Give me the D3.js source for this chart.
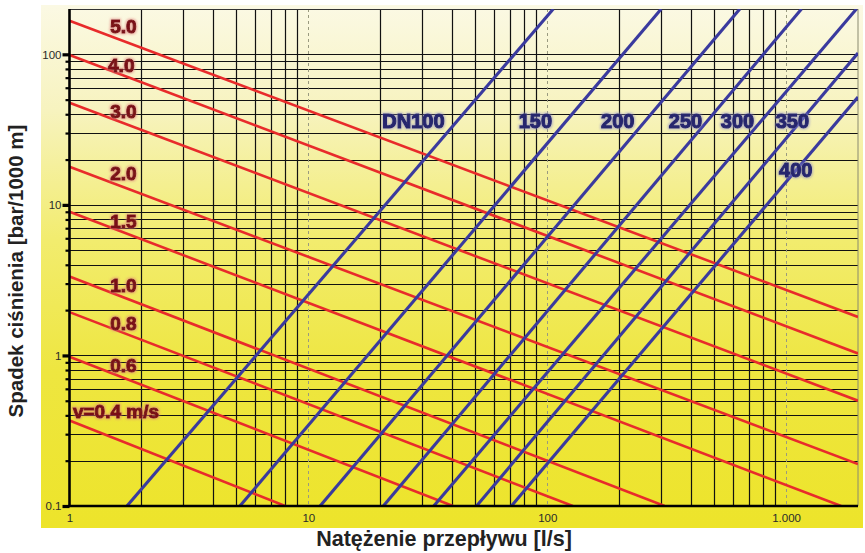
<!DOCTYPE html>
<html>
<head>
<meta charset="utf-8">
<script src="https://cdn.jsdelivr.net/npm/d3@7"></script>
<style>
  html, body { margin: 0; padding: 0; background: #ffffff; }
  svg { display: block; font-family: "Liberation Sans", Arial, Helvetica, sans-serif; }
</style>
</head>
<body>
<svg id="chart" width="865" height="553"></svg>
<script>
// ---- Data ---------------------------------------------------------------
// Flow velocity lines (red): [flow l/s, head loss bar/1000 m] at both ends
const velocityNames   = ["5.0", "4.0", "3.0", "2.0", "1.5", "1.0", "0.8", "0.6", "v=0.4 m/s"];
const velocityValues  = [5.0, 4.0, 3.0, 2.0, 1.5, 1.0, 0.8, 0.6, 0.4];
const velStartFlow    = [1, 1, 1, 1, 1, 1, 1, 1, 1];
const velStartHead    = [167, 99, 47.7, 17.9, 9.0, 3.34, 1.94, 0.98, 0.37];
const velEndFlow      = [2000, 2000, 2000, 2000, 1700, 310, 128, 40.3, 8.0];
const velEndHead      = [1.8, 1.03, 0.5, 0.19, 0.1, 0.1, 0.1, 0.1, 0.1];

// Pipe diameter lines (blue)
const diameterNames   = ["DN100", "150", "200", "250", "300", "350", "400"];
const dnStartFlow     = [1.74, 5.17, 11.2, 20.6, 33.5, 50.6, 70.8];
const dnStartHead     = [0.1, 0.1, 0.1, 0.1, 0.1, 0.1, 0.1];
const dnEndFlow       = [106, 300, 640, 1160, 1970, 2000, 2000];
const dnEndHead       = [200, 200, 200, 200, 200, 102, 52];

// Axis ticks
const xTickValues = [1, 10, 100, 1000];
const xTickLabels = ["1", "10", "100", "1.000"];
const yTickValues = [0.1, 1, 10, 100];
const yTickLabels = ["0.1", "1", "10", "100"];

// ---- Layout -------------------------------------------------------------
const svg = d3.select("#chart");
const plot = { left: 69.5, right: 858, top: 9, bottom: 506 };

const x = d3.scaleLog().domain([1, 2000]).range([plot.left, plot.right]);
const y = d3.scaleLog().domain([0.1, 200]).range([plot.bottom, plot.top]);

// label anchors in data units (flow, head)
const velLabelAnchor = [
  [1.48, 138.6], [1.45, 76.7], [1.48, 37.6], [1.48, 14.6], [1.48, 7.0],
  [1.48, 2.64], [1.48, 1.48], [1.48, 0.78], [1.034, 0.382]
];
const dnLabelAnchor = [
  [20.4, 32.2], [76, 32.2], [168, 32.2], [323, 32.2], [533, 32.2], [905, 32.2], [935, 15.3]
];

const defs = svg.append("defs");

const grad = defs.append("linearGradient")
  .attr("id", "bg").attr("x1", 0).attr("y1", 0).attr("x2", 0).attr("y2", 1);
grad.append("stop").attr("offset", "0%").attr("stop-color", "#fbf9e4");
grad.append("stop").attr("offset", "20%").attr("stop-color", "#f7f3bf");
grad.append("stop").attr("offset", "45%").attr("stop-color", "#f2ec6e");
grad.append("stop").attr("offset", "70%").attr("stop-color", "#eee640");
grad.append("stop").attr("offset", "100%").attr("stop-color", "#ede42a");

defs.append("clipPath").attr("id", "plotClip")
  .append("rect")
  .attr("x", plot.left).attr("y", plot.top)
  .attr("width", plot.right - plot.left).attr("height", plot.bottom - plot.top);

// soft halo behind the line labels
function halo(id, color) {
  const f = defs.append("filter").attr("id", id)
    .attr("x", "-20%").attr("y", "-30%").attr("width", "140%").attr("height", "160%");
  f.append("feMorphology").attr("in", "SourceAlpha").attr("operator", "dilate")
    .attr("radius", 1.2).attr("result", "d");
  f.append("feGaussianBlur").attr("in", "d").attr("stdDeviation", 1.2).attr("result", "b");
  f.append("feFlood").attr("flood-color", color).attr("flood-opacity", 0.55);
  f.append("feComposite").attr("in2", "b").attr("operator", "in").attr("result", "g");
  const m = f.append("feMerge");
  m.append("feMergeNode").attr("in", "g");
  m.append("feMergeNode").attr("in", "SourceGraphic");
}
halo("haloRed", "#e07a7a");
halo("haloBlue", "#8888c8");

// background panel
svg.append("rect")
  .attr("x", 41).attr("y", 5).attr("width", 822).attr("height", 523)
  .attr("fill", "url(#bg)");

// ---- Grid ---------------------------------------------------------------
const grid = svg.append("g");
const minorX = [];
[1, 10, 100, 1000].forEach(dec => {
  for (let m = 2; m <= 9; m++) if (m * dec < 2000) minorX.push(m * dec);
});
const minorY = [];
[0.1, 1, 10].forEach(dec => {
  for (let m = 2; m <= 9; m++) minorY.push(m * dec);
});

grid.selectAll(".hy").data(minorY.concat([1, 10, 100]))
  .join("line")
  .attr("x1", plot.left).attr("x2", plot.right)
  .attr("y1", d => Math.round(y(d)) + 0.5).attr("y2", d => Math.round(y(d)) + 0.5)
  .attr("stroke", "#111").attr("stroke-width", 1.2);

grid.selectAll(".vx").data(minorX)
  .join("line")
  .attr("x1", d => Math.round(x(d)) + 0.5).attr("x2", d => Math.round(x(d)) + 0.5)
  .attr("y1", plot.top).attr("y2", plot.bottom)
  .attr("stroke", "#111").attr("stroke-width", 1.2);

grid.selectAll(".vd").data([10, 100, 1000])
  .join("line")
  .attr("x1", d => Math.round(x(d)) + 0.5).attr("x2", d => Math.round(x(d)) + 0.5)
  .attr("y1", plot.top).attr("y2", plot.bottom)
  .attr("stroke", "#9a9a80").attr("stroke-width", 1)
  .attr("stroke-dasharray", "3,3");

// frame: top and right border
svg.append("line")
  .attr("x1", plot.left).attr("x2", plot.right)
  .attr("y1", plot.top + 0.5).attr("y2", plot.top + 0.5)
  .attr("stroke", "#333").attr("stroke-width", 1);
svg.append("line")
  .attr("x1", plot.right).attr("x2", plot.right)
  .attr("y1", plot.top).attr("y2", plot.bottom)
  .attr("stroke", "#8a8a70").attr("stroke-width", 1);

// ---- Lines --------------------------------------------------------------
const lineGen = d3.line().x(d => x(d[0])).y(d => y(d[1]));
const lines = svg.append("g").attr("clip-path", "url(#plotClip)");

const velData = velocityValues.map((v, i) => [
  [velStartFlow[i], velStartHead[i]], [velEndFlow[i], velEndHead[i]]
]);
const dnData = diameterNames.map((n, i) => [
  [dnStartFlow[i], dnStartHead[i]], [dnEndFlow[i], dnEndHead[i]]
]);

lines.selectAll(".vel").data(velData).join("path")
  .attr("d", lineGen)
  .attr("fill", "none").attr("stroke", "#e82b2b").attr("stroke-width", 2.6);

lines.selectAll(".dn").data(dnData).join("path")
  .attr("d", lineGen)
  .attr("fill", "none").attr("stroke", "#3a3a9e").attr("stroke-width", 3.1);

// ---- Axes ---------------------------------------------------------------
const yAxisMinor = d3.axisLeft(y).tickValues(minorY).tickSize(4).tickFormat("");
svg.append("g").attr("transform", `translate(${plot.left},0)`)
  .call(yAxisMinor)
  .call(g => g.select(".domain").remove())
  .call(g => g.selectAll(".tick line").attr("stroke", "#000").attr("stroke-width", 2.2));

const yAxis = d3.axisLeft(y).tickValues(yTickValues)
  .tickFormat((d, i) => yTickLabels[i]).tickSize(7).tickPadding(1);
svg.append("g").attr("transform", `translate(${plot.left},0)`)
  .call(yAxis)
  .call(g => g.select(".domain").remove())
  .call(g => g.selectAll(".tick line").attr("stroke", "#000").attr("stroke-width", 3.2))
  .call(g => g.selectAll(".tick text")
    .attr("font-size", 11.5).attr("fill", "#2a2a2a")
    .attr("font-family", "'Liberation Sans', Arial, sans-serif"));

const xAxis = d3.axisBottom(x).tickValues(xTickValues)
  .tickFormat((d, i) => xTickLabels[i]).tickSize(0).tickPadding(8);
svg.append("g").attr("transform", `translate(0,${plot.bottom})`)
  .call(xAxis)
  .call(g => g.select(".domain").remove())
  .call(g => g.selectAll(".tick text")
    .attr("font-size", 11.5).attr("fill", "#2a2a2a")
    .attr("font-family", "'Liberation Sans', Arial, sans-serif"));

// main axis lines
svg.append("line")
  .attr("x1", plot.left).attr("x2", plot.left)
  .attr("y1", plot.top).attr("y2", plot.bottom + 1)
  .attr("stroke", "#000").attr("stroke-width", 2.6);
svg.append("line")
  .attr("x1", plot.left - 1).attr("x2", plot.right)
  .attr("y1", plot.bottom).attr("y2", plot.bottom)
  .attr("stroke", "#000").attr("stroke-width", 2.6);

// ---- Line labels --------------------------------------------------------
svg.append("g").selectAll("text").data(velocityNames).join("text")
  .attr("x", (d, i) => x(velLabelAnchor[i][0]))
  .attr("y", (d, i) => y(velLabelAnchor[i][1]))
  .attr("font-size", 19).attr("font-weight", "bold")
  .attr("fill", "#7a1216").attr("stroke", "#7a1216").attr("stroke-width", 1)
  .attr("filter", "url(#haloRed)")
  .text(d => d);

svg.append("g").selectAll("text").data(diameterNames).join("text")
  .attr("x", (d, i) => x(dnLabelAnchor[i][0]))
  .attr("y", (d, i) => y(dnLabelAnchor[i][1]))
  .attr("font-size", 20).attr("font-weight", "bold")
  .attr("fill", "#26266e").attr("stroke", "#26266e").attr("stroke-width", 1.1)
  .attr("filter", "url(#haloBlue)")
  .text(d => d);

// ---- Axis titles --------------------------------------------------------
svg.append("text")
  .attr("transform", "translate(23,271) rotate(-90)")
  .attr("text-anchor", "middle")
  .attr("font-size", 20.5).attr("font-weight", "bold").attr("fill", "#222")
  .text("Spadek ciśnienia [bar/1000 m]");

svg.append("text")
  .attr("x", 444).attr("y", 546)
  .attr("text-anchor", "middle")
  .attr("font-size", 21.5).attr("font-weight", "bold").attr("fill", "#222")
  .text("Natężenie przepływu [l/s]");
</script>
</body>
</html>
